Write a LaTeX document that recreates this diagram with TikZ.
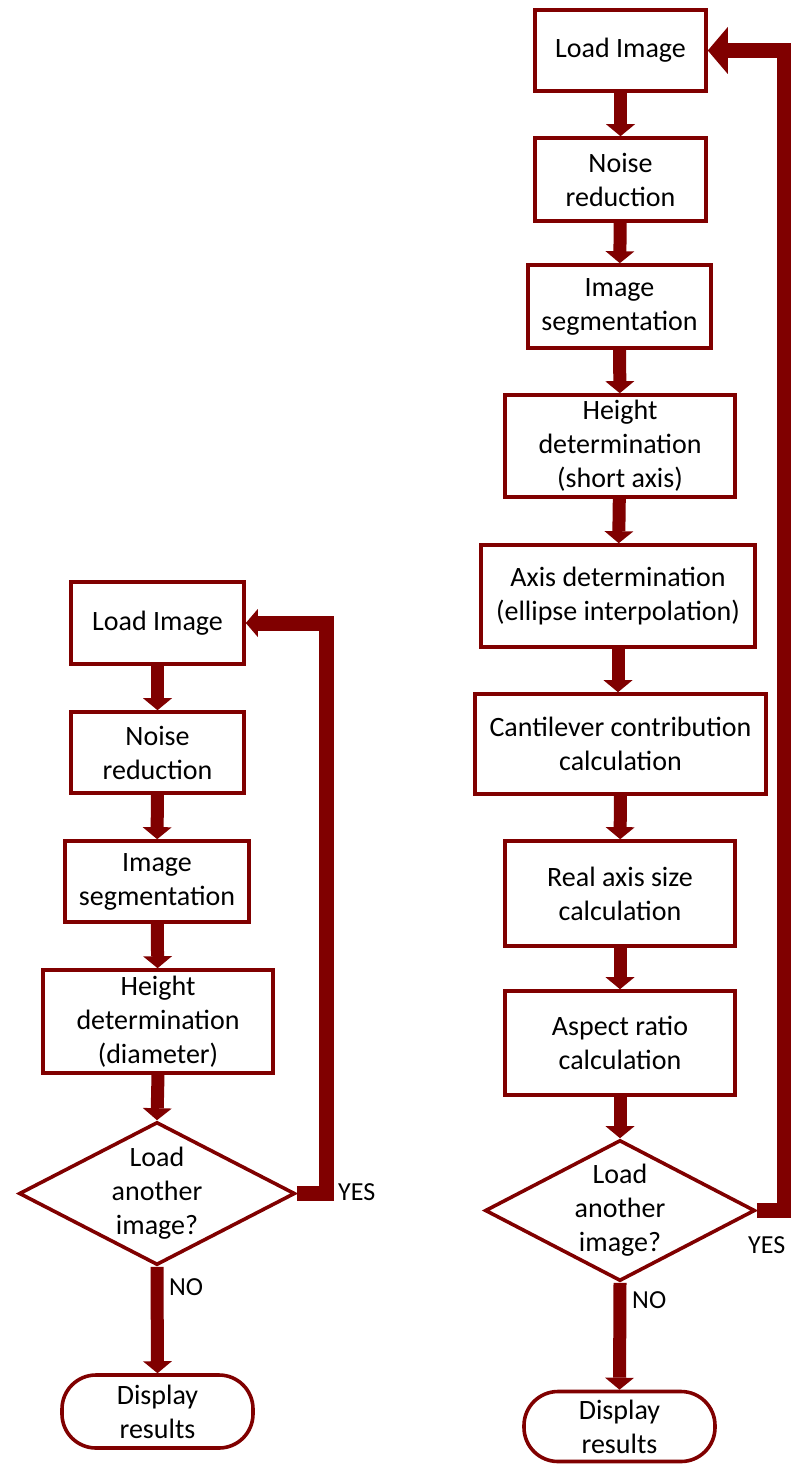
\documentclass[tikz,border=0pt]{standalone}
\usepackage{fontspec}
\setmainfont{Carlito}
\usepackage{tikz}
\usetikzlibrary{arrows.meta, shapes.geometric}
\definecolor{flowred}{HTML}{800000}

\begin{document}
\begin{tikzpicture}[
        x=1pt, y=-1pt,
        font=\fontsize{28}{34}\selectfont,
        stepbox/.style={rectangle, draw=flowred, line width=3.6pt,
                fill=white, align=center, inner sep=0pt},
        decision/.style={diamond, draw=flowred, line width=3.6pt,
                fill=white, inner sep=0pt},
        terminal/.style={rectangle, rounded corners=34pt, draw=flowred,
                line width=3.6pt, fill=white, align=center, inner sep=0pt},
        dtext/.style={align=center, inner sep=0pt},
        flow/.style={draw=flowred, line width=13pt,
                -{Triangle[length=12pt, width=29pt, line width=0pt]}},
        loopback/.style={draw=flowred, line width=15pt},
        answer/.style={anchor=west, inner sep=0pt,
                font=\fontsize{26}{30}\selectfont},
    ]
    \useasboundingbox (0,0) rectangle (790,1466);

    % left chart
    \node[stepbox, minimum width=173pt, minimum height=82pt] (L1) at (157.5, 623) {Load Image};
    \node[stepbox, minimum width=173pt, minimum height=81pt] (L2) at (157.5, 752.5) {Noise\\reduction};
    \node[stepbox, minimum width=184pt, minimum height=81pt] (L3) at (157, 881.5) {Image\\segmentation};
    \node[stepbox, minimum width=230pt, minimum height=103pt] (L4) at (158, 1021.5) {Height\\determination\\(diameter)};
    \node[decision, minimum width=276pt, minimum height=143pt] (Ld) at (157, 1193.5) {};
    \node[dtext] (Ldtext) at (Ld) {Load\\another\\image?};
    \node[terminal, minimum width=191pt, minimum height=73pt] (L6) at (157.5, 1411.5) {Display\\results};
    \coordinate (Lrail) at (326, 0);

    \draw[flow] (L1) -- (L2);
    \draw[flow] (L2) -- (L3);
    \draw[flow] (L3) -- (L4);
    \draw[flow] (L4.south) -- (Ld.north);
    \draw[flow] (Ld.south) -- (L6.north);
    \draw[loopback] (Ld.east) -| (Lrail |- L1.east)
        -- (L1.east) [-{Triangle[length=12pt, width=28pt, line width=0pt]}];
    \node[answer] (Lyes) at (338, 1192) {YES};
    \node[answer] (Lno) at (169, 1287) {NO};

    % right chart
    \node[stepbox, minimum width=171pt, minimum height=81pt] (R1) at (620.5, 50.5) {Load Image};
    \node[stepbox, minimum width=171pt, minimum height=83pt] (R2) at (620.5, 179.5) {Noise\\reduction};
    \node[stepbox, minimum width=183pt, minimum height=83pt] (R3) at (619.5, 306.5) {Image\\segmentation};
    \node[stepbox, minimum width=230pt, minimum height=102pt] (R4) at (620, 446) {Height\\determination\\(short axis)};
    \node[stepbox, minimum width=274pt, minimum height=102pt] (R5) at (618, 596) {Axis determination\\(ellipse interpolation)};
    \node[stepbox, minimum width=291pt, minimum height=100pt] (R6) at (620.5, 744) {Cantilever contribution\\calculation};
    \node[stepbox, minimum width=230pt, minimum height=105pt] (R7) at (620, 893.5) {Real axis size\\calculation};
    \node[stepbox, minimum width=230pt, minimum height=104pt] (R8) at (620, 1043) {Aspect ratio\\calculation};
    \node[decision, minimum width=270pt, minimum height=141pt] (Rd) at (620, 1210.5) {};
    \node[dtext] (Rdtext) at (Rd) {Load\\another\\image?};
    \node[terminal, minimum width=191pt, minimum height=70pt] (R10) at (619.5, 1426.5) {Display\\results};
    \coordinate (Rrail) at (784, 0);

    \draw[flow] (R1) -- (R2);
    \draw[flow] (R2) -- (R3);
    \draw[flow] (R3) -- (R4);
    \draw[flow] (R4) -- (R5);
    \draw[flow] (R5.south) -- (R5.south |- R6.north);
    \draw[flow] (R6) -- (R7);
    \draw[flow] (R7) -- (R8);
    \draw[flow] (R8.south) -- (Rd.north);
    \draw[flow] (Rd.south) -- (R10.north);
    \draw[loopback] (Rd.east) -| (Rrail |- R1.east)
        -- (R1.east) [-{Triangle[length=20pt, width=47pt, line width=0pt]}];
    \node[answer] (Ryes) at (748, 1245) {YES};
    \node[answer] (Rno) at (632, 1300) {NO};
\end{tikzpicture}
\end{document}
